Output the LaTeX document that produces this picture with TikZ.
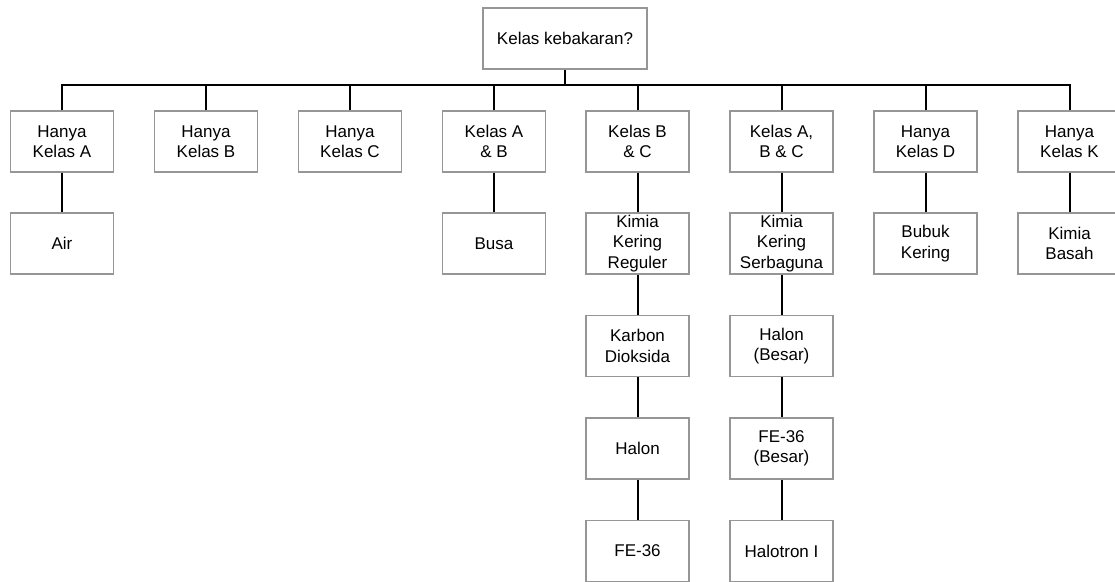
\documentclass[tikz,border=0pt]{standalone}
\usepackage{fontspec}
\setmainfont{Liberation Sans}
\definecolor{boxgray}{RGB}{150,150,150}
\begin{document}
\begin{tikzpicture}[x=1pt,y=-1pt,
  box/.style={draw=boxgray,line width=1.3pt,fill=white,minimum width=103pt,minimum height=61pt,
    inner sep=1pt,align=center,font=\fontsize{17}{20.5}\selectfont},
  conn/.style={draw=black,line width=2pt}]
\useasboundingbox (0,0) rectangle (1115,581);
\clip (0,0) rectangle (1115,581);
% connectors first (behind boxes)
\node[box,minimum width=164pt] (root) at (565,38.5) {Kelas kebakaran?};
\coordinate (bus) at (565,84.5);
\node[box] (c1) at (62,141.5) {Hanya\\Kelas A};
\node[box] (c2) at (206,141.5) {Hanya\\Kelas B};
\node[box] (c3) at (350,141.5) {Hanya\\Kelas C};
\node[box] (c4) at (494,141.5) {Kelas A\\\& B};
\node[box] (c5) at (637.5,141.5) {Kelas B\\\& C};
\node[box] (c6) at (781.5,141.5) {Kelas A,\\B \& C};
\node[box] (c7) at (925.5,141.5) {Hanya\\Kelas D};
\node[box] (c8) at (1069.5,141.5) {Hanya\\Kelas K};
\node[box] (d1) at (62,243.5) {Air};
\node[box] (d4) at (494,243.5) {Busa};
\node[box] (d5) at (637.5,243.5) {Kimia\\Kering\\Reguler};
\node[box] (d6) at (781.5,243.5) {Kimia\\Kering\\Serbaguna};
\node[box] (d7) at (925.5,243.5) {Bubuk\\Kering};
\node[box] (d8) at (1069.5,243.5) {Kimia\\Basah};
\node[box] (e5) at (637.5,346) {Karbon\\Dioksida};
\node[box] (e6) at (781.5,346) {Halon\\(Besar)};
\node[box] (f5) at (637.5,448.5) {Halon};
\node[box] (f6) at (781.5,448.5) {FE-36\\(Besar)};
\node[box] (g5) at (637.5,551) {FE-36};
\node[box] (g6) at (781.5,551) {Halotron I};
\draw[conn] (root.south) -- (bus);
\foreach \c in {c1,c2,c3,c4,c5,c6,c7,c8}{\draw[conn] (bus) -| (\c.north);}
\draw[conn] (c1.south) -- (d1.north);
\draw[conn] (c4.south) -- (d4.north);
\draw[conn] (c5.south) -- (d5.north);
\draw[conn] (c6.south) -- (d6.north);
\draw[conn] (c7.south) -- (d7.north);
\draw[conn] (c8.south) -- (d8.north);
\draw[conn] (d5.south) -- (e5.north);
\draw[conn] (e5.south) -- (f5.north);
\draw[conn] (f5.south) -- (g5.north);
\draw[conn] (d6.south) -- (e6.north);
\draw[conn] (e6.south) -- (f6.north);
\draw[conn] (f6.south) -- (g6.north);
\end{tikzpicture}
\end{document}
